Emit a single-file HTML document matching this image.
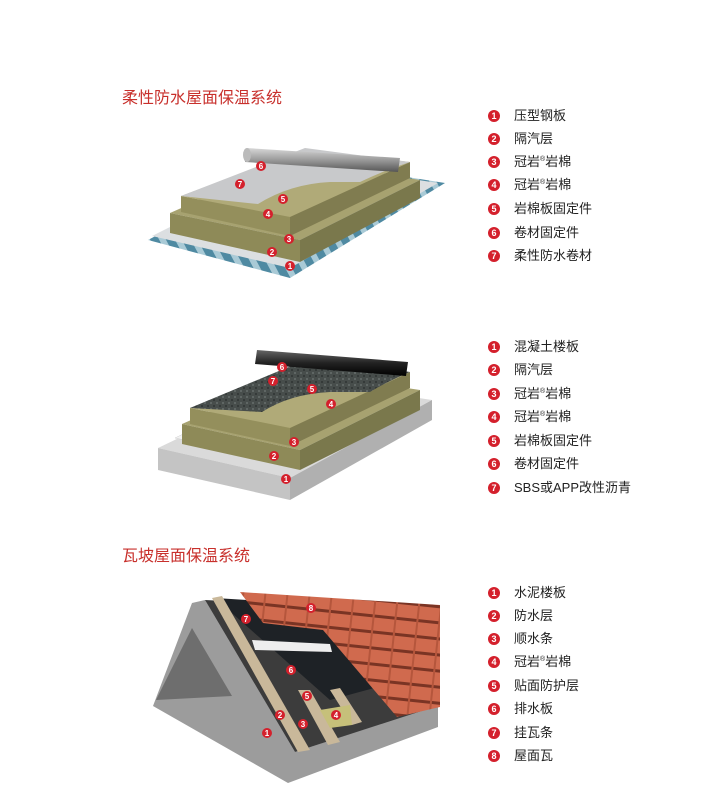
<!DOCTYPE html>
<html><head><meta charset="utf-8"><style>
html,body{margin:0;padding:0;background:#fff;}
body{width:710px;height:811px;position:relative;overflow:hidden;font-family:"Liberation Sans","Noto Sans CJK SC",sans-serif;}
.t{position:absolute;left:122px;font-size:16px;color:#c8302c;}
.li{position:absolute;left:488px;font-size:13px;color:#222;height:16px;line-height:16px;white-space:nowrap;}
.li b{display:inline-block;width:12px;height:12px;border-radius:50%;background:#d4202c;color:#fff;font-size:9px;line-height:12px;text-align:center;font-weight:bold;margin-right:14px;vertical-align:1px;}
.li i{font-style:normal;font-size:7px;position:relative;top:-5px;line-height:0;}
svg{position:absolute;left:0;top:0;}
</style></head><body>
<div class="t" style="top:84px">柔性防水屋面保温系统</div>
<div class="t" style="top:542px">瓦坡屋面保温系统</div>

<div class="li" style="top:108px"><b>1</b>压型钢板</div>
<div class="li" style="top:131px"><b>2</b>隔汽层</div>
<div class="li" style="top:154px"><b>3</b>冠岩<i>®</i>岩棉</div>
<div class="li" style="top:177px"><b>4</b>冠岩<i>®</i>岩棉</div>
<div class="li" style="top:201px"><b>5</b>岩棉板固定件</div>
<div class="li" style="top:225px"><b>6</b>卷材固定件</div>
<div class="li" style="top:248px"><b>7</b>柔性防水卷材</div>

<div class="li" style="top:339px"><b>1</b>混凝土楼板</div>
<div class="li" style="top:362px"><b>2</b>隔汽层</div>
<div class="li" style="top:386px"><b>3</b>冠岩<i>®</i>岩棉</div>
<div class="li" style="top:409px"><b>4</b>冠岩<i>®</i>岩棉</div>
<div class="li" style="top:433px"><b>5</b>岩棉板固定件</div>
<div class="li" style="top:456px"><b>6</b>卷材固定件</div>
<div class="li" style="top:480px"><b>7</b>SBS或APP改性沥青</div>

<div class="li" style="top:585px"><b>1</b>水泥楼板</div>
<div class="li" style="top:608px"><b>2</b>防水层</div>
<div class="li" style="top:631px"><b>3</b>顺水条</div>
<div class="li" style="top:654px"><b>4</b>冠岩<i>®</i>岩棉</div>
<div class="li" style="top:678px"><b>5</b>贴面防护层</div>
<div class="li" style="top:701px"><b>6</b>排水板</div>
<div class="li" style="top:725px"><b>7</b>挂瓦条</div>
<div class="li" style="top:748px"><b>8</b>屋面瓦</div>

<svg width="710" height="811" viewBox="0 0 710 811">
<defs>
<pattern id="cor" width="14" height="14" patternUnits="userSpaceOnUse" patternTransform="rotate(-28)">
<rect width="14" height="14" fill="#4f8aa2"/><rect width="6" height="14" fill="#a9cad6"/></pattern>
<linearGradient id="roll" x1="0" y1="0" x2="0" y2="1"><stop offset="0" stop-color="#d8d8d8"/><stop offset=".5" stop-color="#9a9a9a"/><stop offset="1" stop-color="#555"/></linearGradient>
<linearGradient id="rollb" x1="0" y1="0" x2="0" y2="1"><stop offset="0" stop-color="#666"/><stop offset=".5" stop-color="#222"/><stop offset="1" stop-color="#000"/></linearGradient>
<pattern id="tile" width="22" height="16" patternUnits="userSpaceOnUse" patternTransform="rotate(6)">
<rect width="22" height="16" fill="#d06a4e"/><rect y="12" width="22" height="3" fill="#7a3424"/><rect x="17" width="2" height="16" fill="#b5563c"/></pattern>
<pattern id="blk" width="6" height="6" patternUnits="userSpaceOnUse">
<rect width="6" height="6" fill="#474d4b"/><rect width="2" height="2" fill="#5f6664"/><rect x="3" y="3" width="2" height="2" fill="#353a39"/></pattern>
</defs>
<g id="d1">
<polygon points="148,240 290,278 445,183 300,160" fill="url(#cor)"/>
<polygon points="152,236 290,268 438,183 300,162" fill="#dcdfe1"/>
<polygon points="170,213 300,240 420,180 290,160" fill="#a7a270"/>
<polygon points="170,213 170,233 300,262 300,240" fill="#8e8a58"/>
<polygon points="300,240 420,180 420,198 300,262" fill="#7a784c"/>
<polygon points="181,196 290,217 410,162 305,150" fill="#b0aa78"/>
<polygon points="181,196 181,212 290,236 290,217" fill="#948f5c"/>
<polygon points="290,217 410,162 410,178 290,236" fill="#807c50"/>
<path d="M181,196 L258,204 Q290,184 330,182 L360,182 Q385,170 410,162 L305,148 Z" fill="#c8c9cb"/>
<polygon points="247,148 400,158 398,172 245,162" fill="url(#roll)"/>
<ellipse cx="247" cy="155" rx="4" ry="7" fill="#bbb"/>
</g>
<g id="d2">
<polygon points="158,448 290,478 432,400 300,380" fill="#dadada"/>
<polygon points="158,448 158,470 290,500 290,478" fill="#c4c4c4"/>
<polygon points="290,478 432,400 432,420 290,500" fill="#b0b0b0"/>
<polygon points="175,438 290,462 420,392 300,378" fill="#f2f2f2" stroke="#ccc" stroke-width=".5"/>
<polygon points="182,424 300,450 420,390 300,372" fill="#a7a270"/>
<polygon points="182,424 182,444 300,470 300,450" fill="#8e8a58"/>
<polygon points="300,450 420,390 420,410 300,470" fill="#7a784c"/>
<polygon points="190,408 290,428 410,372 310,362" fill="#b0aa78"/>
<polygon points="190,408 190,424 290,446 290,428" fill="#948f5c"/>
<polygon points="290,428 410,372 410,388 290,446" fill="#807c50"/>
<path d="M190,408 L262,412 Q290,394 330,392 L370,392 Q390,380 410,372 L310,358 Z" fill="url(#blk)"/>
<polygon points="257,350 408,362 406,376 255,364" fill="url(#rollb)"/>
</g>
<g id="d3">
<polygon points="153,706 192,603 205,600 295,752 438,705 438,727 288,783" fill="#9c9c9c"/>
<polygon points="156,700 192,628 232,696" fill="#6e6e6e"/>
<polygon points="205,600 440,612 440,705 295,752" fill="#3c3c3c"/>
<polygon points="215,598 345,606 385,685 330,700" fill="#1e2226"/>
<polygon points="212,598 222,596 310,750 298,752" fill="#c9b89a"/>
<polygon points="298,690 310,690 340,742 328,745" fill="#c9b89a"/>
<polygon points="330,690 340,688 362,722 352,725" fill="#c9b89a"/>
<polygon points="320,710 350,705 352,725 330,728" fill="#c6c07a"/>
<polygon points="255,605 295,606 298,613 258,613" fill="#eee"/>
<polygon points="252,640 330,644 332,652 255,650" fill="#eee"/>
<polygon points="240,592 440,605 440,707 397,717 363,677 323,630 263,623" fill="url(#tile)"/>
</g>
<g font-family="Liberation Sans" font-size="8" font-weight="bold" fill="#fff" text-anchor="middle">
<g fill="#d4202c"><circle cx="261" cy="166" r="5"/><circle cx="240" cy="184" r="5"/><circle cx="283" cy="199" r="5"/><circle cx="268" cy="214" r="5"/><circle cx="289" cy="239" r="5"/><circle cx="272" cy="252" r="5"/><circle cx="290" cy="266" r="5"/>
<circle cx="282" cy="367" r="5"/><circle cx="273" cy="381" r="5"/><circle cx="312" cy="389" r="5"/><circle cx="331" cy="404" r="5"/><circle cx="294" cy="442" r="5"/><circle cx="274" cy="456" r="5"/><circle cx="286" cy="479" r="5"/>
<circle cx="267" cy="733" r="5"/><circle cx="280" cy="715" r="5"/><circle cx="303" cy="724" r="5"/><circle cx="336" cy="715" r="5"/><circle cx="307" cy="696" r="5"/><circle cx="291" cy="670" r="5"/><circle cx="246" cy="619" r="5"/><circle cx="311" cy="608" r="5"/></g>
<text x="261" y="169">6</text><text x="240" y="187">7</text><text x="283" y="202">5</text><text x="268" y="217">4</text><text x="289" y="242">3</text><text x="272" y="255">2</text><text x="290" y="269">1</text>
<text x="282" y="370">6</text><text x="273" y="384">7</text><text x="312" y="392">5</text><text x="331" y="407">4</text><text x="294" y="445">3</text><text x="274" y="459">2</text><text x="286" y="482">1</text>
<text x="267" y="736">1</text><text x="280" y="718">2</text><text x="303" y="727">3</text><text x="336" y="718">4</text><text x="307" y="699">5</text><text x="291" y="673">6</text><text x="246" y="622">7</text><text x="311" y="611">8</text>
</g>
</svg>
</body></html>
